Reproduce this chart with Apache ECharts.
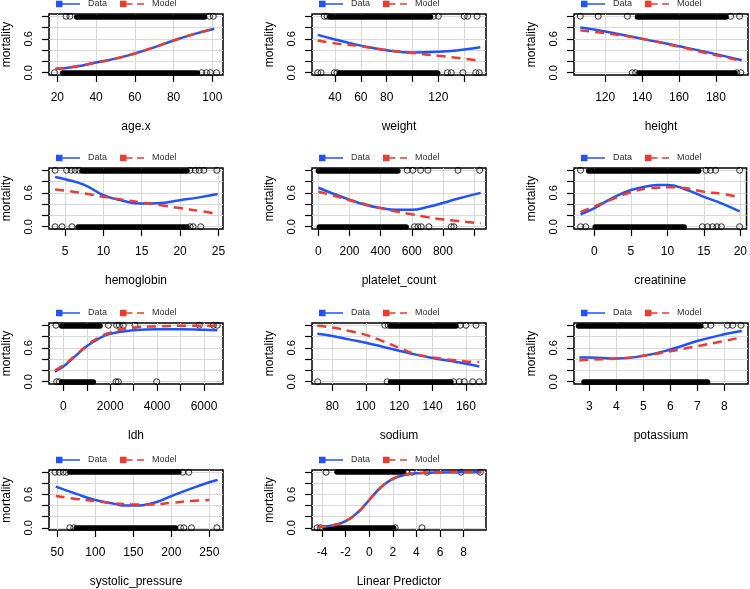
<!DOCTYPE html>
<html>
<head>
<meta charset="utf-8">
<title>mortality: data vs model</title>
<script src="https://cdn.jsdelivr.net/npm/echarts@6/dist/echarts.min.js"></script>
<style>
html,body{margin:0;padding:0;background:#fff;}
#chart{width:750px;height:589px;}
</style>
</head>
<body>
<div id="chart"></div>
<script>
// ---- data ----
var yTicks = [0, 0.2, 0.4, 0.6, 0.8, 1.0];
var yLabels = [0, 0.6];

// age.x
var ageRange = [15.7, 105.5];
var ageTicks = [20, 40, 60, 80, 100];
var ageLabels = [20, 40, 60, 80, 100];
var ageX = [19, 30, 40, 50, 60, 70, 80, 90, 101];
var ageData = [0.065, 0.11, 0.18, 0.25, 0.34, 0.45, 0.57, 0.68, 0.78];
var ageModel = [0.07, 0.115, 0.18, 0.25, 0.34, 0.45, 0.57, 0.68, 0.78];
var ageTop = [24.5, 26.5, 98.5, 100.5];
var ageTopBand = [[30, 96]];
var ageBottom = [18.5, 94.5, 97, 99, 102.2];
var ageBottomBand = [[22.8, 92.3]];

// weight
var wtRange = [22.2, 156.9];
var wtTicks = [40, 60, 80, 100, 120, 140];
var wtLabels = [40, 60, 80, 120];
var wtX = [26.6, 40, 60, 80, 100, 120, 140, 152.5];
var wtData = [0.67, 0.59, 0.48, 0.40, 0.36, 0.37, 0.41, 0.45];
var wtModel = [0.57, 0.52, 0.47, 0.40, 0.35, 0.30, 0.25, 0.21];
var wtTop = [31.7, 33.8, 116.4, 120, 140, 142.7, 150];
var wtTopBand = [[36, 114]];
var wtBottom = [26.6, 29.2, 39.5, 41.5, 127, 130, 139, 149, 151.7];
var wtBottomBand = [[43.4, 119.5]];

// height
var htRange = [103.1, 197.4];
var htTicks = [120, 140, 160, 180];
var htLabels = [120, 140, 160, 180];
var htX = [106.5, 120, 140, 160, 180, 194];
var htData = [0.80, 0.73, 0.60, 0.47, 0.33, 0.22];
var htModel = [0.75, 0.70, 0.60, 0.46, 0.31, 0.21];
var htTop = [106.5, 116.2, 132, 188, 192.8];
var htTopBand = [[137.5, 185.5]];
var htBottom = [134.7, 136.5, 191.3, 193.5];
var htBottomBand = [[138.3, 190.4]];

// hemoglobin
var hbRange = [2.9, 25.6];
var hbTicks = [5, 10, 15, 20, 25];
var hbLabels = [5, 10, 15, 20, 25];
var hbX = [3.7, 5, 7.5, 10, 12.5, 15, 17.5, 20, 22.5, 24.9];
var hbData = [0.88, 0.84, 0.74, 0.56, 0.46, 0.41, 0.42, 0.47, 0.52, 0.58];
var hbModel = [0.66, 0.64, 0.59, 0.53, 0.48, 0.43, 0.38, 0.33, 0.28, 0.23];
var hbTop = [3.7, 5.2, 5.8, 6.3, 6.8, 21.3, 22, 22.5, 23.1, 24.8];
var hbTopBand = [[7.2, 20.9]];
var hbBottom = [3.7, 4.6, 5.9, 21.3, 21.7, 22.7];
var hbBottomBand = [[6.7, 20.9]];

// platelet_count
var plRange = [-41, 1077];
var plTicks = [0, 200, 400, 600, 800, 1000];
var plLabels = [0, 200, 400, 600, 800];
var plX = [0, 100, 200, 300, 400, 500, 600, 700, 800, 900, 1043];
var plData = [0.69, 0.58, 0.48, 0.39, 0.33, 0.30, 0.30, 0.35, 0.42, 0.50, 0.60];
var plModel = [0.62, 0.55, 0.47, 0.40, 0.33, 0.27, 0.22, 0.17, 0.13, 0.10, 0.06];
var plTop = [571, 607, 657, 704, 897, 1036];
var plTopBand = [[0, 511]];
var plBottom = [618, 640, 661, 710, 854, 871];
var plBottomBand = [[6, 564]];

// creatinine
var crRange = [-2.8, 20.85];
var crTicks = [0, 5, 10, 15, 20];
var crLabels = [0, 5, 10, 15, 20];
var crX = [-1.9, 0, 2.5, 5, 7.5, 8.7, 10, 12.5, 15, 17.5, 19.9];
var crData = [0.22, 0.33, 0.51, 0.65, 0.72, 0.74, 0.74, 0.66, 0.53, 0.41, 0.27];
var crModel = [0.26, 0.36, 0.49, 0.61, 0.68, 0.69, 0.70, 0.68, 0.62, 0.58, 0.52];
var crTop = [-1.9, 15.3, 15.9, 16.6, 19.9];
var crTopBand = [[-0.8, 14.3]];
var crBottom = [-1.9, -1.2, 14.8, 15.5, 16.2, 16.8, 17.4, 19.9];
var crBottomBand = [[0.1, 12.3]];

// ldh
var ldRange = [-610, 6810];
var ldTicks = [0, 1000, 2000, 3000, 4000, 5000, 6000];
var ldLabels = [0, 2000, 4000, 6000];
var ldX = [-356, 0, 500, 1000, 1500, 2000, 3000, 4000, 5000, 6000, 6570];
var ldData = [0.18, 0.27, 0.45, 0.63, 0.76, 0.85, 0.91, 0.93, 0.93, 0.92, 0.91];
var ldModel = [0.20, 0.29, 0.46, 0.64, 0.78, 0.87, 0.96, 0.98, 0.99, 0.99, 0.99];
var ldTop = [-313, 1920, 2276, 2390, 2560, 3058, 5800, 6400, 6570];
var ldTopBand = [[-71, 1565]];
var ldBottom = [-285, -170, 2247, 2347, 3983];
var ldBottomBand = [[-70, 1280]];

// sodium
var naRange = [67.8, 172];
var naTicks = [80, 100, 120, 140, 160];
var naLabels = [80, 100, 120, 140, 160];
var naX = [71, 80, 90, 100, 110, 120, 130, 140, 150, 160, 168];
var naData = [0.85, 0.81, 0.75, 0.69, 0.62, 0.55, 0.48, 0.42, 0.37, 0.32, 0.27];
var naModel = [0.99, 0.96, 0.90, 0.83, 0.72, 0.60, 0.49, 0.43, 0.39, 0.36, 0.35];
var naTop = [111.4, 113.4, 156.6, 160, 166];
var naTopBand = [[114.8, 154]];
var naBottom = [71.2, 112.8, 152.6, 156, 159, 164, 168];
var naBottomBand = [[114.8, 151]];

// potassium
var kRange = [2.43, 8.88];
var kTicks = [3, 4, 5, 6, 7, 8];
var kLabels = [3, 4, 5, 6, 7, 8];
var kX = [2.63, 3, 4, 5, 6, 7, 8, 8.65];
var kData = [0.43, 0.43, 0.41, 0.46, 0.57, 0.72, 0.84, 0.90];
var kModel = [0.375, 0.39, 0.41, 0.46, 0.54, 0.63, 0.72, 0.79];
var kTop = [7.3, 7.5, 8.12, 8.31, 8.62];
var kTopBand = [[2.6, 7.13]];
var kBottom = [];
var kBottomBand = [[2.8, 7.38]];

// systolic_pressure
var spRange = [39.1, 268];
var spTicks = [50, 100, 150, 200, 250];
var spLabels = [50, 100, 150, 200, 250];
var spX = [48, 75, 100, 125, 140, 150, 175, 200, 225, 250, 261];
var spData = [0.74, 0.61, 0.50, 0.43, 0.40, 0.40, 0.44, 0.57, 0.70, 0.82, 0.86];
var spModelX = [48, 75, 100, 125, 150, 175, 200, 225, 250];
var spModel = [0.57, 0.52, 0.48, 0.44, 0.42, 0.42, 0.45, 0.48, 0.50];
var spTop = [47, 52.6, 57.8, 62, 215, 223];
var spTopBand = [[66.5, 210]];
var spBottom = [66.5, 71.7, 212, 216.5, 226.5, 260];
var spBottomBand = [[75, 205.6]];

// Linear Predictor
var lpRange = [-4.85, 9.9];
var lpTicks = [-4, -2, 0, 2, 4, 6, 8];
var lpLabels = [-4, -2, 0, 2, 4, 6, 8];
var lpX = [-4.4, -4, -3, -2, -1, 0, 1, 2, 3, 4, 6, 8, 9.5];
var lpData = [0.012, 0.018, 0.047, 0.12, 0.27, 0.50, 0.73, 0.88, 0.95, 0.98, 0.997, 1.0, 1.0];
var lpModel = [0.012, 0.018, 0.047, 0.12, 0.27, 0.50, 0.73, 0.88, 0.95, 0.98, 0.997, 1.0, 1.0];
var lpTop = [-3.66, 3.2, 3.63, 4.9, 7.78, 9.42];
var lpTopBand = [[-2.73, 2.92]];
var lpBottom = [-4.42, -4.14, 2.2, 4.47];
var lpBottomBand = [[-3.72, 2.07]];

// ---- panel table ----
var panels = [
  {name: 'age.x', range: ageRange, ticks: ageTicks, labels: ageLabels, x: ageX, data: ageData, mx: ageX, model: ageModel, top: ageTop, bottom: ageBottom, tb: ageTopBand, bb: ageBottomBand},
  {name: 'weight', range: wtRange, ticks: wtTicks, labels: wtLabels, x: wtX, data: wtData, mx: wtX, model: wtModel, top: wtTop, bottom: wtBottom, tb: wtTopBand, bb: wtBottomBand},
  {name: 'height', range: htRange, ticks: htTicks, labels: htLabels, x: htX, data: htData, mx: htX, model: htModel, top: htTop, bottom: htBottom, tb: htTopBand, bb: htBottomBand},
  {name: 'hemoglobin', range: hbRange, ticks: hbTicks, labels: hbLabels, x: hbX, data: hbData, mx: hbX, model: hbModel, top: hbTop, bottom: hbBottom, tb: hbTopBand, bb: hbBottomBand},
  {name: 'platelet_count', range: plRange, ticks: plTicks, labels: plLabels, x: plX, data: plData, mx: plX, model: plModel, top: plTop, bottom: plBottom, tb: plTopBand, bb: plBottomBand},
  {name: 'creatinine', range: crRange, ticks: crTicks, labels: crLabels, x: crX, data: crData, mx: crX, model: crModel, top: crTop, bottom: crBottom, tb: crTopBand, bb: crBottomBand},
  {name: 'ldh', range: ldRange, ticks: ldTicks, labels: ldLabels, x: ldX, data: ldData, mx: ldX, model: ldModel, top: ldTop, bottom: ldBottom, tb: ldTopBand, bb: ldBottomBand},
  {name: 'sodium', range: naRange, ticks: naTicks, labels: naLabels, x: naX, data: naData, mx: naX, model: naModel, top: naTop, bottom: naBottom, tb: naTopBand, bb: naBottomBand},
  {name: 'potassium', range: kRange, ticks: kTicks, labels: kLabels, x: kX, data: kData, mx: kX, model: kModel, top: kTop, bottom: kBottom, tb: kTopBand, bb: kBottomBand},
  {name: 'systolic_pressure', range: spRange, ticks: spTicks, labels: spLabels, x: spX, data: spData, mx: spModelX, model: spModel, top: spTop, bottom: spBottom, tb: spTopBand, bb: spBottomBand},
  {name: 'Linear Predictor', range: lpRange, ticks: lpTicks, labels: lpLabels, x: lpX, data: lpData, mx: lpX, model: lpModel, top: lpTop, bottom: lpBottom, tb: lpTopBand, bb: lpBottomBand}
];

// ---- layout / style ----
var BLUE = '#1f53ff', RED = '#ef3b2c';
var FONT = '"Liberation Sans", Arial, Helvetica, sans-serif';
var gridLeft = [49, 312, 574];
var gridTop = [14, 168, 323, 470];
var boxW = 174, boxH = 61;
var dataIcon = 'path://M0,0h6.5v6.5h-6.5zM6.5,2.6h17.5v1.3h-17.5z';
var modelIcon = 'path://M0,0h6.5v6.5h-6.5zM6.5,2.6h6v1.3h-6zM17,2.6h7v1.3h-7z';

function zip(xs, ys) {
  var out = [];
  for (var i = 0; i < xs.length; i++) out.push([xs[i], ys[i]]);
  return out;
}

var option = {
  animation: false,
  backgroundColor: '#fff',
  textStyle: {fontFamily: FONT},
  grid: [], xAxis: [], yAxis: [], legend: [], series: []
};

panels.forEach(function (p, i) {
  var col = i % 3, row = Math.floor(i / 3);
  option.grid.push({
    left: gridLeft[col], top: gridTop[row], width: boxW, height: boxH,
    show: true, borderColor: '#000', borderWidth: 1.5, backgroundColor: 'transparent'
  });
  option.xAxis.push({
    type: 'value', gridIndex: i, min: p.range[0], max: p.range[1],
    name: p.name, nameLocation: 'middle', nameGap: 46,
    nameTextStyle: {color: '#000', fontSize: 12, fontFamily: FONT},
    axisLine: {show: false, onZero: false},
    axisTick: {show: true, length: 7, customValues: p.ticks, lineStyle: {color: '#000', width: 1.2}},
    axisLabel: {customValues: p.labels, margin: 17, color: '#000', fontSize: 12, fontFamily: FONT,
      formatter: function (v) { return String(v); }},
    splitLine: {show: true, lineStyle: {color: '#d9d9d9', width: 1}}
  });
  option.yAxis.push({
    type: 'value', gridIndex: i, min: -0.04, max: 1.04,
    name: 'mortality', nameLocation: 'middle', nameGap: 36,
    nameTextStyle: {color: '#000', fontSize: 12, fontFamily: FONT},
    axisLine: {show: false, onZero: false},
    axisTick: {show: true, length: 7, customValues: yTicks, lineStyle: {color: '#000', width: 1.2}},
    axisLabel: {customValues: yLabels, rotate: 90, margin: 15, color: '#000', fontSize: 11, fontFamily: FONT,
      formatter: function (v) { return v.toFixed(1); }},
    splitLine: {show: true, lineStyle: {color: '#d9d9d9', width: 1}}
  });
  option.legend.push({
    left: gridLeft[col] + 7, top: gridTop[row] - 16, padding: 0,
    itemGap: 13, itemWidth: 24, itemHeight: 6.5, selectedMode: false,
    textStyle: {fontSize: 9, color: '#333', fontFamily: FONT, padding: [0, 0, 0, 3], lineHeight: 12},
    data: [
      {name: 'Data', icon: dataIcon, itemStyle: {color: BLUE, borderWidth: 0}},
      {name: 'Model', icon: modelIcon, itemStyle: {color: RED, borderWidth: 0}}
    ]
  });

  // observed 0/1 outcomes
  var pts = p.top.map(function (v) { return [v, 1]; })
    .concat(p.bottom.map(function (v) { return [v, 0]; }));
  option.series.push({
    type: 'scatter', xAxisIndex: i, yAxisIndex: i, data: pts,
    symbol: 'circle', symbolSize: 6, silent: true,
    itemStyle: {color: 'rgba(0,0,0,0)', borderColor: '#000', borderWidth: 1}
  });
  // dense runs of overlapping circles
  var bands = p.tb.map(function (b) { return {coords: [[b[0], 1], [b[1], 1]]}; })
    .concat(p.bb.map(function (b) { return {coords: [[b[0], 0], [b[1], 0]]}; }));
  option.series.push({
    type: 'lines', coordinateSystem: 'cartesian2d', xAxisIndex: i, yAxisIndex: i,
    data: bands, silent: true,
    lineStyle: {color: '#000', width: 5.5, opacity: 1, cap: 'round'}
  });
  option.series.push({
    name: 'Data', type: 'line', xAxisIndex: i, yAxisIndex: i,
    data: zip(p.x, p.data), smooth: true, symbol: 'none',
    itemStyle: {color: BLUE}, lineStyle: {color: BLUE, width: 2.5}
  });
  option.series.push({
    name: 'Model', type: 'line', xAxisIndex: i, yAxisIndex: i,
    data: zip(p.mx, p.model), smooth: true, symbol: 'none',
    itemStyle: {color: RED}, lineStyle: {color: RED, width: 2.5, type: [9, 6]}
  });
});

var chart = echarts.init(document.getElementById('chart'));
chart.setOption(option);
</script>
</body>
</html>
